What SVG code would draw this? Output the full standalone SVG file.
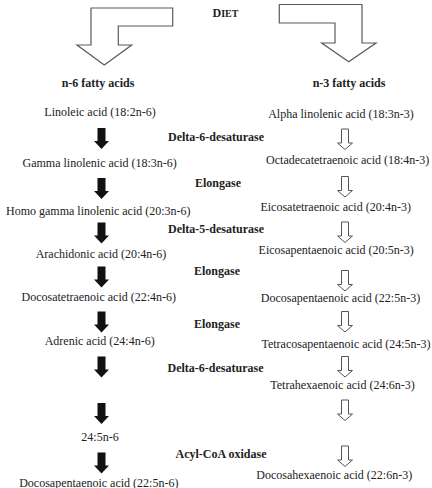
<svg xmlns="http://www.w3.org/2000/svg" xmlns:xlink="http://www.w3.org/1999/xlink" width="432" height="488" viewBox="0 0 432 488">
<style>
.t{font-family:"Liberation Serif","Times New Roman",serif;font-size:12px;fill:#222;text-anchor:middle}
.b{font-family:"Liberation Serif","Times New Roman",serif;font-size:12px;font-weight:bold;fill:#222;text-anchor:middle}
.big{fill:#fff;stroke:#5a5a5a;stroke-width:1.2;stroke-linejoin:miter}
.fa{fill:#111}
.oa{fill:#fff;stroke:#555;stroke-width:1}
</style>
<defs>
<path id="filled" class="fa" d="M-4,0 H4 V13 H7.5 L0,21 L-7.5,13 H-4 Z"/>
<path id="open" class="oa" d="M-3.5,0 H3.5 V14 H7.5 L0,20.5 L-7.5,14 H-3.5 Z"/>
</defs>
<rect width="432" height="488" fill="#fff"/>
<g id="diet"><text class="b" x="225.5" y="16.5">D<tspan font-size="10">IET</tspan></text></g>
<g id="n6-head"><text class="b" x="98" y="87">n-6 fatty acids</text></g>
<g id="n3-head"><text class="b" x="349" y="87">n-3 fatty acids</text></g>
<g id="n6-1"><text class="t" x="100" y="116">Linoleic acid (18:2n-6)</text></g>
<g id="n6-2"><text class="t" x="99.7" y="167">Gamma linolenic acid (18:3n-6)</text></g>
<g id="n6-3"><text class="t" x="98.3" y="215">Homo gamma linolenic acid (20:3n-6)</text></g>
<g id="n6-4"><text class="t" x="101" y="258">Arachidonic acid (20:4n-6)</text></g>
<g id="n6-5"><text class="t" x="98.8" y="301">Docosatetraenoic acid (22:4n-6)</text></g>
<g id="n6-6"><text class="t" x="99.7" y="345">Adrenic acid (24:4n-6)</text></g>
<g id="n6-7"><text class="t" x="100" y="441">24:5n-6</text></g>
<g id="n6-8"><text class="t" x="98.8" y="486.5">Docosapentaenoic acid (22:5n-6)</text></g>
<g id="n3-1"><text class="t" x="341" y="117.5">Alpha linolenic acid (18:3n-3)</text></g>
<g id="n3-2"><text class="t" x="347.7" y="164">Octadecatetraenoic acid (18:4n-3)</text></g>
<g id="n3-3"><text class="t" x="335.7" y="211">Eicosatetraenoic acid (20:4n-3)</text></g>
<g id="n3-4"><text class="t" x="336.2" y="254">Eicosapentaenoic acid (20:5n-3)</text></g>
<g id="n3-5"><text class="t" x="340.5" y="302">Docosapentaenoic acid (22:5n-3)</text></g>
<g id="n3-6"><text class="t" x="346" y="348">Tetracosapentaenoic acid (24:5n-3)</text></g>
<g id="n3-7"><text class="t" x="342.5" y="388.5">Tetrahexaenoic acid (24:6n-3)</text></g>
<g id="n3-8"><text class="t" x="334.2" y="479">Docosahexaenoic acid (22:6n-3)</text></g>
<g id="enzymes">
<text class="b" x="216" y="141">Delta-6-desaturase</text>
<text class="b" x="218" y="187">Elongase</text>
<text class="b" x="216" y="232.5">Delta-5-desaturase</text>
<text class="b" x="217" y="275">Elongase</text>
<text class="b" x="217" y="327.5">Elongase</text>
<text class="b" x="215.5" y="371.5">Delta-6-desaturase</text>
<text class="b" x="221" y="457.5">Acyl-CoA oxidase</text>
</g>
<g id="connectors">
<polygon class="big" points="91,8 172.7,8 172.7,26 118.3,26 118.3,45 131.7,45 104.3,65 77,45 91,45"/>
<polygon class="big" points="279.3,4.5 362,4.5 362,43 376,43 348.7,61.7 321.7,43 335,43 335,23 279.3,23"/>
<use xlink:href="#filled" href="#filled" x="101.5" y="128"/>
<use xlink:href="#filled" href="#filled" x="101.5" y="178"/>
<use xlink:href="#filled" href="#filled" x="101.5" y="222.5"/>
<use xlink:href="#filled" href="#filled" x="101.5" y="266.5"/>
<use xlink:href="#filled" href="#filled" x="101.5" y="311.5"/>
<use xlink:href="#filled" href="#filled" x="101.5" y="356.5"/>
<use xlink:href="#filled" href="#filled" x="101.5" y="403"/>
<use xlink:href="#filled" href="#filled" x="101.5" y="452.5"/>
<use xlink:href="#open" href="#open" x="345" y="129"/>
<use xlink:href="#open" href="#open" x="345" y="176.5"/>
<use xlink:href="#open" href="#open" x="345" y="222"/>
<use xlink:href="#open" href="#open" x="345" y="270.5"/>
<use xlink:href="#open" href="#open" x="345" y="311.5"/>
<use xlink:href="#open" href="#open" x="345" y="356.5"/>
<use xlink:href="#open" href="#open" x="345" y="400"/>
<use xlink:href="#open" href="#open" x="345" y="446"/>
</g>
</svg>
